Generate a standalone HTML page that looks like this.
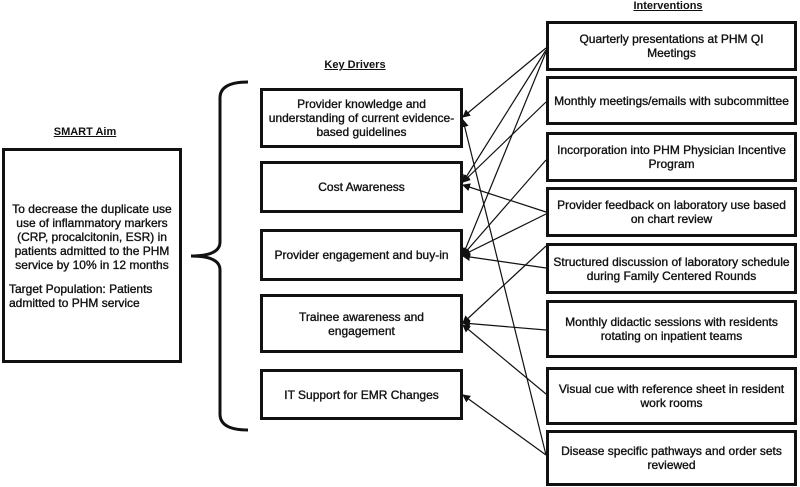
<!DOCTYPE html>
<html><head><meta charset="utf-8"><style>
body{margin:0;width:800px;height:487px;background:#fff;position:relative;overflow:hidden;font-family:"Liberation Sans",Arial,sans-serif;color:#111}
.b{position:absolute;border:3px solid #111;box-sizing:border-box;display:flex;align-items:center;justify-content:center;text-align:center;font-size:12px;line-height:14px;padding:0 3px;-webkit-text-stroke:0.35px #111}
.t{position:absolute;font-size:11px;font-weight:bold;text-decoration:underline;transform:translateX(-50%);white-space:nowrap}
svg{position:absolute;left:0;top:0}
</style></head><body>
<div class="t" style="left:85px;top:126px">SMART Aim</div>
<div class="t" style="left:355px;top:59px">Key Drivers</div>
<div class="t" style="left:668px;top:0px">Interventions</div>
<div class="b" style="left:2px;top:148px;width:180px;height:215px;flex-direction:column;padding:0 4px">
<div>To decrease the duplicate use use of inflammatory markers (CRP, procalcitonin, ESR) in patients admitted to the PHM service by 10% in 12 months</div>
<div style="text-align:left;margin-top:10px;width:100%">Target Population: Patients admitted to PHM service</div></div>
<div class="b" style="left:260px;top:88px;width:203px;height:60px">Provider knowledge and understanding of current evidence-based guidelines</div>
<div class="b" style="left:260px;top:161px;width:203px;height:52px">Cost Awareness</div>
<div class="b" style="left:260px;top:229px;width:203px;height:52px">Provider engagement and buy-in</div>
<div class="b" style="left:260px;top:294px;width:203px;height:59px">Trainee awareness and engagement</div>
<div class="b" style="left:260px;top:369px;width:203px;height:51px">IT Support for EMR Changes</div>
<div class="b" style="left:546px;top:21px;width:251px;height:50px;padding:0 20px">Quarterly presentations at PHM QI Meetings</div>
<div class="b" style="left:546px;top:76px;width:251px;height:49px">Monthly meetings/emails with subcommittee</div>
<div class="b" style="left:546px;top:132px;width:251px;height:50px">Incorporation into PHM Physician Incentive Program</div>
<div class="b" style="left:546px;top:187px;width:251px;height:50px">Provider feedback on laboratory use based on chart review</div>
<div class="b" style="left:546px;top:243px;width:251px;height:51px">Structured discussion of laboratory schedule during Family Centered Rounds</div>
<div class="b" style="left:546px;top:300px;width:251px;height:58px">Monthly didactic sessions with residents rotating on inpatient teams</div>
<div class="b" style="left:546px;top:367px;width:251px;height:58px">Visual cue with reference sheet in resident work rooms</div>
<div class="b" style="left:546px;top:430px;width:251px;height:56px">Disease specific pathways and order sets reviewed</div>
<svg width="800" height="487">
<defs><marker id="a" markerWidth="8" markerHeight="8" refX="7" refY="4" orient="auto" markerUnits="userSpaceOnUse"><path d="M0,0L8,4L0,8z" fill="#111"/></marker></defs>
<path d="M248,82 Q220,82 220,98 L220,242 Q220,256 191,256 Q220,256 220,270 L220,414 Q220,430 248,430" fill="none" stroke="#111" stroke-width="3"/>
<g stroke="#111" stroke-width="1.2" marker-end="url(#a)">
<line x1="546" y1="48" x2="463" y2="117"/>
<line x1="546" y1="50" x2="463" y2="182"/>
<line x1="546" y1="52" x2="463" y2="255"/>
<line x1="546" y1="102" x2="463" y2="182"/>
<line x1="546" y1="160" x2="463" y2="255"/>
<line x1="546" y1="212" x2="463" y2="185"/>
<line x1="546" y1="214" x2="463" y2="255"/>
<line x1="546" y1="268" x2="463" y2="256"/>
<line x1="546" y1="246" x2="463" y2="323"/>
<line x1="546" y1="330" x2="463" y2="323"/>
<line x1="546" y1="394" x2="463" y2="325"/>
<line x1="546" y1="455" x2="463" y2="120"/>
<line x1="546" y1="455" x2="463" y2="395"/>
</g>
</svg>
</body></html>
